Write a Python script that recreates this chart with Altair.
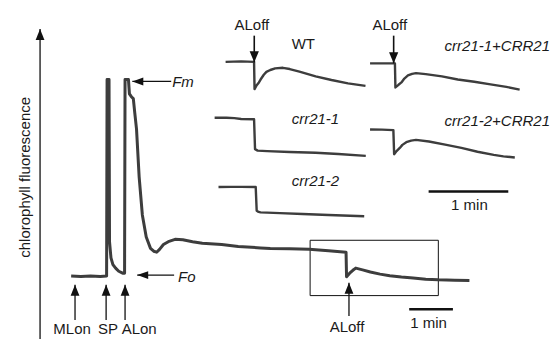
import altair as alt
import pandas as pd

# ---- trace data (x = time position, y = fluorescence position) ----
main_x = [65, 75, 85, 95, 101.5, 102, 104, 104.5, 106, 108, 111, 114, 118, 120,
          120.5, 124, 125, 127, 129, 130.5, 132.3, 135, 138.3, 142.3, 146.7, 150, 153,
          156, 160, 165, 172, 180, 190, 200, 220, 237, 260, 270, 290, 310, 330, 348,
          348.5, 351.7, 355, 358, 365, 373, 383, 393, 405, 417, 430, 443, 460, 475]
main_y = [281, 281.5, 281, 281.5, 281, 75, 75, 245, 262, 269, 273, 276, 278, 278,
          75, 75, 90, 93, 95, 110, 127, 177, 217, 240, 252, 255, 256,
          253, 248, 245, 242.5, 243, 245, 246.7, 248, 250, 251.5, 252, 252.5, 253, 254.5, 256,
          281.7, 278, 275, 272.7, 274.5, 276.7, 279, 280.7, 282, 283, 284.3, 285, 285.5, 285.7]

wt_x = [224, 240, 253.3, 253.8, 256, 258.3, 260, 263.3, 266, 270, 275, 283, 290, 300, 316.7, 333, 350, 368]
wt_y = [56.5, 56, 56.5, 85, 81, 78, 75, 70, 67, 65, 63.3, 62.7, 64, 66.7, 71.7, 75.5, 79, 81.7]

c1r_x = [372.7, 385, 398.3, 398.8, 402, 405, 408, 411.7, 416, 420, 430, 446.7, 463, 480, 496.7, 513, 526.7]
c1r_y = [58, 58, 58, 83.3, 80.5, 78, 74, 70.7, 69, 68.3, 69.3, 71.7, 75, 77.3, 80, 82.7, 85.5]

c1_x = [212.7, 225, 233, 240, 253.3, 254.3, 257, 266.7, 290, 316.7, 340, 368.3]
c1_y = [115, 115, 115.5, 116.3, 116.7, 148, 149.5, 150, 151, 151.7, 153, 155]

c2r_x = [372.7, 385, 396.7, 397.5, 400, 403.3, 406, 410, 415, 420, 433.3, 450, 466.7, 483.3, 500, 510, 521.7]
c2r_y = [127.3, 127.5, 128, 153.3, 150, 146.7, 143.5, 140.7, 139, 138.3, 140, 143.3, 146.7, 150.7, 154, 155.5, 156.7]

c2_x = [216.7, 230, 240, 255, 256, 258, 260, 280, 303.3, 330, 366.7]
c2_y = [187.7, 187.5, 187.5, 187.7, 212.5, 213.8, 214.3, 215, 216, 217, 218.3]

# ---- annotation arrows: tip position and shaft end ----
up_tip_x = [69, 101, 120.5, 351, 33]
up_tip_y = [290, 290, 290, 288, 22]
up_end_y = [327, 327, 327, 323, 347]

down_tip_x = [253.5, 397]
down_tip_y = [57, 58]
down_end_y = [29, 29]

left_tip_x = [128, 133]
left_tip_y = [77, 280]
left_end_x = [168, 171]

# scale bars
bar_x1 = [413, 433]
bar_x2 = [458, 515]
bar_y = [315.7, 192.5]

# box around the ALoff region
box_x1, box_x2, box_y1, box_y2 = [311], [443], [243.5], [301.5]

# ---- texts ----
center_txt = ["MLon", "SP", "ALon", "ALoff", "1 min", "ALoff", "ALoff", "1 min"]
center_x = [66, 103, 135, 349, 433, 251, 393, 475]
center_y = [342, 342, 342, 340, 335, 23, 23, 212]

left_it_txt = ["Fo", "Fm", "crr21-1", "crr21-2"]
left_it_x = [175, 169, 292, 292]
left_it_y = [287, 83, 122, 187]

left_txt = ["WT"]
left_x = [292]
left_y = [43]

right_it_txt = ["crr21-1+CRR21", "crr21-2+CRR21"]
right_it_x = [558, 558]
right_it_y = [45, 124]

ylab_txt = ["chlorophyll fluorescence"]
ylab_x = [18]
ylab_y = [177.5]

# ---------------------------------------------------------------------
def trace_df(name, xs, ys):
    return pd.DataFrame({"x": xs, "y": ys, "series": name, "order": range(len(xs))})

main_df = trace_df("main", main_x, main_y)
inset_df = pd.concat([
    trace_df("WT", wt_x, wt_y),
    trace_df("crr21-1+CRR21", c1r_x, c1r_y),
    trace_df("crr21-1", c1_x, c1_y),
    trace_df("crr21-2+CRR21", c2r_x, c2r_y),
    trace_df("crr21-2", c2_x, c2_y),
])

X = alt.X("x:Q", scale=alt.Scale(domain=[0, 560], nice=False, zero=False), axis=None)
Y = alt.Y("y:Q", scale=alt.Scale(domain=[0, 347], nice=False, zero=False, reverse=True), axis=None)

TRACE = "#3d3d3d"
INK = "#111111"
FONT = "Liberation Sans"

main_line = alt.Chart(main_df).mark_line(color=TRACE, strokeWidth=3, strokeJoin="round").encode(
    x=X, y=Y, order="order:Q")
inset_lines = alt.Chart(inset_df).mark_line(color=TRACE, strokeWidth=2.4, strokeJoin="round").encode(
    x=X, y=Y, detail="series:N", order="order:Q")

up_df = pd.DataFrame({"x": up_tip_x, "y": up_tip_y, "y2": up_end_y})
down_df = pd.DataFrame({"x": down_tip_x, "y": down_tip_y, "y2": down_end_y})
left_df = pd.DataFrame({"x": left_tip_x, "y": left_tip_y, "x2": left_end_x})

up_shaft = alt.Chart(up_df).mark_rule(color=INK, strokeWidth=1.3).encode(x=X, y=Y, y2="y2:Q")
down_shaft = alt.Chart(down_df).mark_rule(color=INK, strokeWidth=1.6).encode(x=X, y=Y, y2="y2:Q")
left_shaft = alt.Chart(left_df).mark_rule(color=INK, strokeWidth=1.3).encode(x=X, x2="x2:Q", y=Y)

HEAD = 484
up_head = alt.Chart(up_df).mark_point(shape="M0,0L-0.4,1L0.4,1Z", filled=True, color=INK,
                                      opacity=1, size=HEAD, strokeWidth=0).encode(x=X, y=Y)
down_head = alt.Chart(down_df).mark_point(shape="M0,0L-0.42,-1L0.42,-1Z", filled=True, color=INK,
                                          opacity=1, size=HEAD, strokeWidth=0).encode(x=X, y=Y)
left_head = alt.Chart(left_df).mark_point(shape="M0,0L1,-0.36L1,0.36Z", filled=True, color=INK,
                                          opacity=1, size=HEAD, strokeWidth=0).encode(x=X, y=Y)

bar_df = pd.DataFrame({"x": bar_x1, "x2": bar_x2, "y": bar_y})
bars = alt.Chart(bar_df).mark_rule(color=INK, strokeWidth=2.5).encode(x=X, x2="x2:Q", y=Y)

box_df = pd.DataFrame({"x": box_x1, "x2": box_x2, "y": box_y1, "y2": box_y2})
box = alt.Chart(box_df).mark_rect(fill=None, fillOpacity=0, stroke=INK, strokeWidth=1).encode(
    x=X, x2="x2:Q", y=Y, y2="y2:Q")

def text_layer(txt, xs, ys, align, italic=False, angle=0):
    df = pd.DataFrame({"t": txt, "x": xs, "y": ys})
    kw = dict(align=align, baseline="alphabetic", font=FONT, fontSize=15, color="#1a1a1a")
    if italic:
        kw["fontStyle"] = "italic"
    if angle:
        kw["angle"] = angle
        kw["baseline"] = "middle"
    return alt.Chart(df).mark_text(**kw).encode(x=X, y=Y, text="t:N")

texts = [
    text_layer(center_txt, center_x, center_y, "center"),
    text_layer(left_it_txt, left_it_x, left_it_y, "left", italic=True),
    text_layer(left_txt, left_x, left_y, "left"),
    text_layer(right_it_txt, right_it_x, right_it_y, "right", italic=True),
    text_layer(ylab_txt, ylab_x, ylab_y, "center", angle=270),
]

chart = alt.layer(
    box, main_line, inset_lines, up_shaft, down_shaft, left_shaft,
    up_head, down_head, left_head, bars, *texts
).properties(
    width=544, height=331, padding=0,
    autosize=alt.AutoSizeParams(type="none"),
    background="white",
).configure_view(stroke=None)

chart.save("out.html", embed_options={"renderer": "svg", "actions": False})
